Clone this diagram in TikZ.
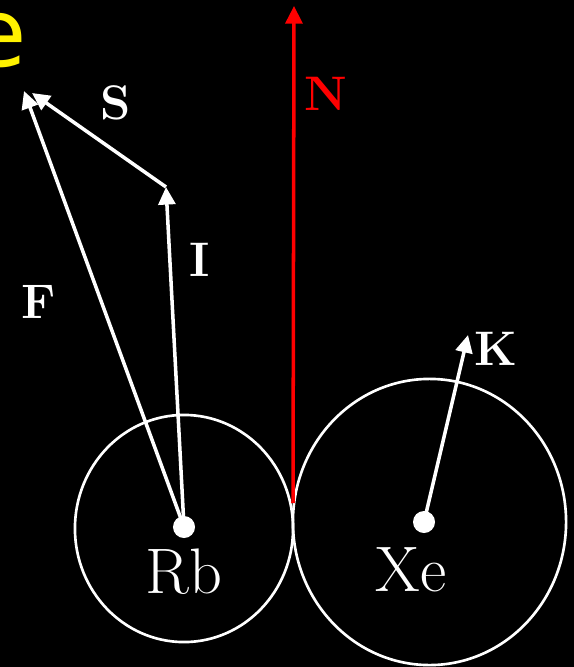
\documentclass[tikz,border=0pt]{standalone}
\usepackage{fontspec}
\newfontfamily\titlefont{DejaVu Sans}
\usetikzlibrary{arrows.meta}
\begin{document}
\begin{tikzpicture}[x=0.01cm,y=-0.01cm,
	vec/.style={white,line width=1pt,-{Triangle[width=4.8pt,length=5pt]}},
	atom/.style={white,line width=0.75pt},
	lbl/.style={white,inner sep=0pt,font=\fontsize{13.8}{16}\selectfont\bfseries},
	atomname/.style={white,inner sep=0pt,anchor=base,font=\fontsize{18.3}{20}\selectfont}]
	\fill[black] (0,0) rectangle (574,667);
	\useasboundingbox (0,0) rectangle (574,667);
	
	\node[yellow,inner sep=0pt,anchor=base east,font=\titlefont\fontsize{27}{30}\selectfont] (t) at (28,67) {e};
	
	\coordinate (rb) at (184,527);
	\coordinate (xe) at (424,522);
	\coordinate (i) at (166,187);
	\coordinate (f) at (24,91);
	\coordinate (s) at (32,93);
	\coordinate (k) at (468,335);
	\coordinate (n0) at (293,503);
	\coordinate (n1) at (294,6);
	
	\draw[atom] (184,528.5) ellipse [x radius=1.09cm, y radius=1.135cm];
	\draw[atom] (429.5,522) ellipse [x radius=1.365cm, y radius=1.43cm];
	
	\draw[red,line width=1pt,-{Triangle[width=4.8pt,length=5pt]}] (n0) -- (n1);
	
	\draw[vec] (rb) -- (i);
	\draw[vec] (rb) -- (f);
	\draw[vec] (i) -- (s);
	\draw[vec] (xe) -- (k);
	
	\fill[white] (rb) circle (0.11cm);
	\fill[white] (xe) circle (0.11cm);
	
	\node[atomname] (rbname) at (184,593) {Rb};
	\node[atomname] (xename) at (411,591) {Xe};
	
	\node[lbl] (slbl) at (116,103) {S};
	\node[lbl] (ilbl) at (200,260) {I};
	\node[lbl] (flbl) at (39,302) {F};
	\node[lbl] (klbl) at (496,349) {K};
	\node[lbl,red] (nlbl) at (326,94) {N};
\end{tikzpicture}
\end{document}
